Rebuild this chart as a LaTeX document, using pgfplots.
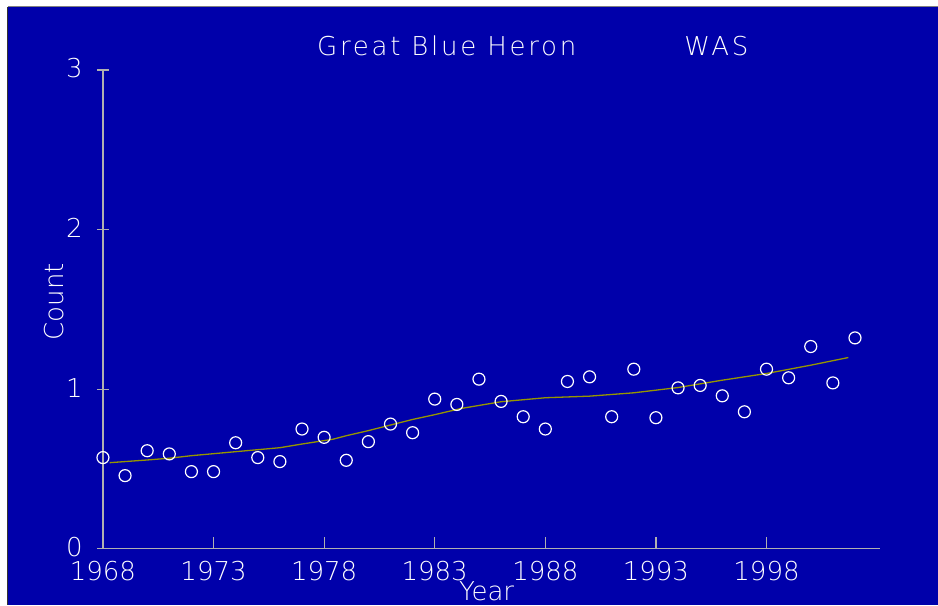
\documentclass[border=0pt]{standalone}
\usepackage{fontspec}
\setmainfont{DejaVu Sans ExtraLight}
\newfontfamily\titlefont[LetterSpace=10.5]{DejaVu Sans ExtraLight}
\usepackage{pgfplots}
\pgfplotsset{compat=1.18}
\definecolor{bgblue}{RGB}{0,0,170}
\definecolor{axgray}{RGB}{176,176,176}
\definecolor{trend}{RGB}{150,150,0}
\newcommand{\chartfont}{\fontsize{26}{28}\selectfont}
\pgfplotstableread{
year count
1968 0.571
1969 0.458
1970 0.614
1971 0.594
1972 0.483
1973 0.483
1974 0.664
1975 0.571
1976 0.546
1977 0.750
1978 0.698
1979 0.554
1980 0.671
1981 0.781
1982 0.727
1983 0.9375
1984 0.904
1985 1.0625
1986 0.923
1987 0.827
1988 0.750
1989 1.048
1990 1.077
1991 0.827
1992 1.125
1993 0.821
1994 1.008
1995 1.023
1996 0.958
1997 0.858
1998 1.125
1999 1.071
2000 1.267
2001 1.039
2002 1.321
}\counts
\pgfplotstableread{
year fit
1968.3 0.539
1970 0.556
1971 0.567
1972 0.583
1974 0.608
1976 0.633
1977 0.656
1978.4 0.686
1979 0.708
1980 0.740
1981 0.775
1982 0.810
1983 0.840
1984.2 0.879
1986 0.921
1988 0.946
1990 0.956
1992 0.977
1994 1.010
1996 1.056
1998 1.098
2000 1.150
2001.7 1.198
}\trendtab
\begin{document}
\begin{tikzpicture}
\fill[white] (0,0) rectangle (938pt,605pt);
\fill[bgblue] (8pt,0) rectangle (938pt,598pt);
\draw[gray, line width=1pt] (8pt,598.5pt) -- (938pt,598.5pt);
\draw[black!80, line width=1pt] (7.5pt,0) -- (7.5pt,598pt);
\path[use as bounding box] (0,0) rectangle (938pt,605pt);
\begin{axis}[
  at={(103pt,56pt)}, anchor=south west,
  scale only axis, width=777pt, height=479pt,
  xmin=1968, xmax=2003.11, ymin=0, ymax=3,
  axis x line*=bottom, axis y line*=left,
  axis line style={axgray, line width=1.2pt},
  xtick={1968,1973,1978,1983,1988,1993,1998},
  xticklabels={1968,1973,1978,1983,1988,1993,1998},
  ytick={0,1,2,3}, yticklabels={0,1,2,3},
  tick style={axgray, line width=1.2pt},
  major tick length=12pt,
  xtick align=inside, ytick align=center,
  xticklabel style={font=\chartfont, text=white, inner sep=0pt, yshift=-12.5pt},
  yticklabel style={font=\chartfont, text=white, inner sep=0pt, xshift=-14pt, yshift=1.5pt},
  xlabel={Year}, ylabel={Count},
  xlabel style={at={(axis description cs:0.494,-0.108)}, anchor=base, font=\chartfont, text=white},
  ylabel style={at={(axis description cs:-0.063,0.516)}, anchor=center, font=\chartfont, text=white},
  clip=false,
]
\addplot[only marks, mark=o, mark size=6pt, mark options={white, line width=1.2pt}] table[x=year, y=count] {\counts};
\addplot[trend, line width=1.3pt, no marks] table[x=year, y=fit] {\trendtab};
\node[font=\chartfont\titlefont, text=white] at (axis description cs:0.4427,1.050) {Great Blue Heron};
\node[font=\chartfont\titlefont, text=white] at (axis description cs:0.790,1.050) {WAS};
\end{axis}
\end{tikzpicture}
\end{document}
